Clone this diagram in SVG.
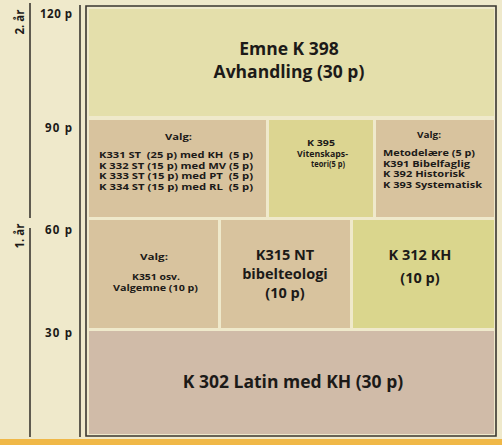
<svg xmlns="http://www.w3.org/2000/svg" width="502" height="445" viewBox="0 0 502 445">
<style>
text{font-family:"Open Sans","Liberation Sans",sans-serif;font-weight:bold;fill:#1c1a18}
.ax{font-size:11.5px}
.big{font-size:17.5px;text-anchor:middle}
.mid{font-size:14.5px;text-anchor:middle}
.sm{font-size:8.5px}
.c{text-anchor:middle}
.line{stroke:#3a3630;stroke-width:1.6;fill:none}
.tan{fill:#d8c39e}
.yel{fill:#dcd591}
</style>
<rect width="502" height="445" fill="#efe9cb"/>
<rect x="0" y="439" width="502" height="6" fill="#f0b848"/>
<g id="axis">
<line class="line" x1="30" y1="3" x2="30" y2="218"/>
<line class="line" x1="30" y1="228" x2="30" y2="437"/>
<line class="line" x1="80" y1="5" x2="80" y2="437"/>
<text class="ax" x="40" y="18" textLength="32" lengthAdjust="spacing">120 p</text>
<text class="ax" x="45" y="132" textLength="27" lengthAdjust="spacing">90 p</text>
<text class="ax" x="45" y="234" textLength="27" lengthAdjust="spacing">60 p</text>
<text class="ax" x="45" y="337" textLength="27" lengthAdjust="spacing">30 p</text>
<text class="ax" transform="translate(24,22) rotate(-90)" text-anchor="middle">2. år</text>
<text class="ax" transform="translate(24,236) rotate(-90)" text-anchor="middle">1. år</text>
</g>
<g id="frame">
<path class="line" d="M86,436 L86,6 L496,6 L496,436 Z" stroke-width="1.2"/>
</g>
<g id="k398">
<rect x="89" y="9" width="405" height="107" fill="#e4dfab"/>
<text class="big" x="289" y="55">Emne K 398</text>
<text class="big" x="289" y="78">Avhandling (30 p)</text>
</g>
<g id="valg1">
<rect class="tan" x="89" y="120" width="177" height="97"/>
<text class="sm" x="165" y="140" textLength="27" lengthAdjust="spacingAndGlyphs">Valg:</text>
<text class="sm" x="99" y="158" textLength="154" lengthAdjust="spacingAndGlyphs" xml:space="preserve">K331 ST  (25 p) med KH  (5 p)</text>
<text class="sm" x="99" y="168.5" textLength="154" lengthAdjust="spacingAndGlyphs">K 332 ST (15 p) med MV (5 p)</text>
<text class="sm" x="99" y="179" textLength="154" lengthAdjust="spacingAndGlyphs" xml:space="preserve">K 333 ST (15 p) med PT  (5 p)</text>
<text class="sm" x="99" y="189.5" textLength="154" lengthAdjust="spacingAndGlyphs" xml:space="preserve">K 334 ST (15 p) med RL  (5 p)</text>
</g>
<g id="k395">
<rect class="yel" x="269" y="120" width="104" height="97"/>
<text class="sm" x="307" y="146" textLength="28" lengthAdjust="spacingAndGlyphs">K 395</text>
<text class="sm" x="297" y="156.5" textLength="51" lengthAdjust="spacingAndGlyphs">Vitenskaps-</text>
<text class="sm" x="311" y="167" textLength="34" lengthAdjust="spacingAndGlyphs">teori(5 p)</text>
</g>
<g id="valg2">
<rect class="tan" x="376" y="120" width="118" height="97"/>
<text class="sm" x="417" y="138" textLength="24" lengthAdjust="spacingAndGlyphs">Valg:</text>
<text class="sm" x="383" y="156" textLength="92" lengthAdjust="spacingAndGlyphs">Metodelære (5 p)</text>
<text class="sm" x="383" y="166.5" textLength="87" lengthAdjust="spacingAndGlyphs">K391 Bibelfaglig</text>
<text class="sm" x="383" y="177" textLength="82" lengthAdjust="spacingAndGlyphs">K 392 Historisk</text>
<text class="sm" x="383" y="187.5" textLength="99" lengthAdjust="spacingAndGlyphs">K 393 Systematisk</text>
</g>
<g id="valg3">
<rect class="tan" x="89" y="220" width="129" height="108"/>
<text class="sm" x="140" y="260" textLength="28" lengthAdjust="spacingAndGlyphs">Valg:</text>
<text class="sm" x="132" y="280" textLength="48" lengthAdjust="spacingAndGlyphs">K351 osv.</text>
<text class="sm" x="113" y="291" textLength="85" lengthAdjust="spacingAndGlyphs">Valgemne (10 p)</text>
</g>
<g id="k315">
<rect class="tan" x="221" y="220" width="129" height="108"/>
<text class="mid" x="285" y="260">K315 NT</text>
<text class="mid" x="285" y="279">bibelteologi</text>
<text class="mid" x="285" y="298">(10 p)</text>
</g>
<g id="k312">
<rect x="353" y="220" width="141" height="108" fill="#dad68d"/>
<text class="mid" x="420" y="260">K 312 KH</text>
<text class="mid" x="420" y="283">(10 p)</text>
</g>
<g id="k302">
<rect x="89" y="331" width="405" height="103" fill="#d0bba8"/>
<text class="big" x="293" y="388">K 302 Latin med KH (30 p)</text>
</g>
<g id="connectors"></g>
</svg>
